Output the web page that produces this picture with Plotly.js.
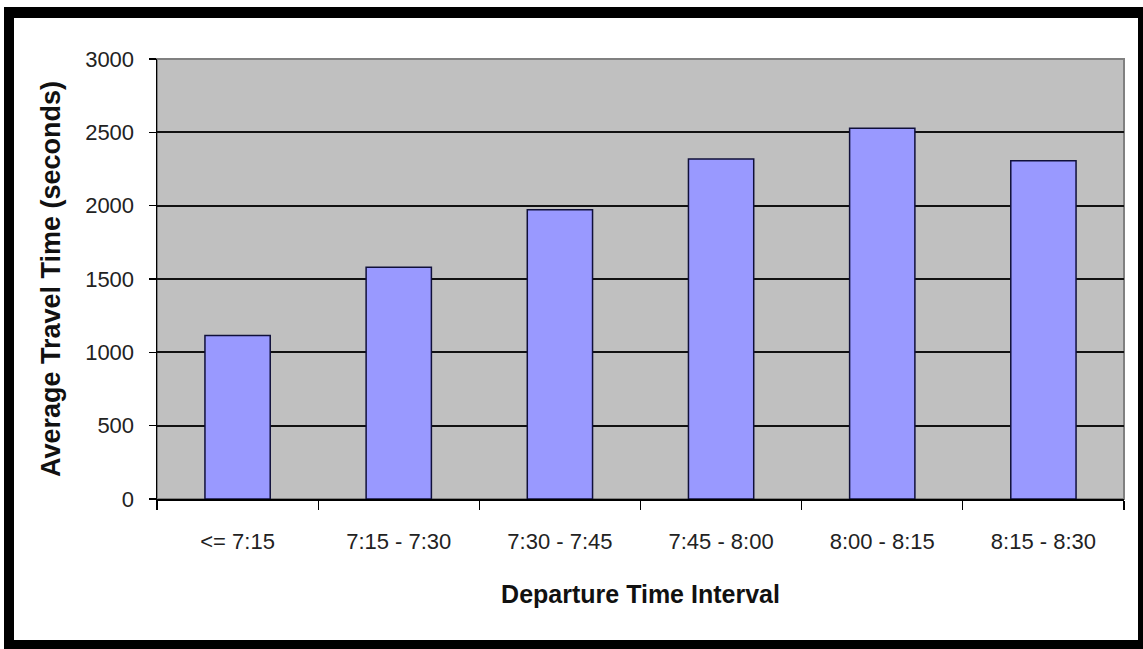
<!DOCTYPE html>
<html>
<head>
<meta charset="utf-8">
<script src="https://cdn.plot.ly/plotly-3.0.1.min.js"></script>
<style>
  html, body { margin: 0; padding: 0; background: #ffffff; }
  #wrap { position: relative; width: 1143px; height: 649px; overflow: hidden; }
  #chart { position: absolute; left: 0; top: 0; width: 1143px; height: 649px; }
  #frame { position: absolute; left: 4px; top: 7px; width: 1139px; height: 642px;
           box-sizing: border-box; border-style: solid; border-color: #000;
           border-width: 11px 5px 9px 10px; pointer-events: none; }
</style>
</head>
<body>
<div id="wrap">
  <div id="chart"></div>
  <div id="frame"></div>
</div>
<script>
const categories = ["<= 7:15", "7:15 - 7:30", "7:30 - 7:45", "7:45 - 8:00", "8:00 - 8:15", "8:15 - 8:30"];
const travelTime = [1114, 1580, 1973, 2319, 2527, 2307];
const yTicks = [0, 500, 1000, 1500, 2000, 2500, 3000];
const xTitle = "Departure Time Interval";
const yTitle = "Average Travel Time (seconds)";

const font = "Liberation Sans, Arial, sans-serif";

const data = [{
  type: "bar",
  x: categories,
  y: travelTime,
  width: 0.405,
  marker: { color: "#9999FF", line: { color: "#10103a", width: 1.5 } },
  hoverinfo: "x+y"
}];

const layout = {
  width: 1143,
  height: 649,
  margin: { l: 157, r: 19, t: 59, b: 150 },
  paper_bgcolor: "rgba(0,0,0,0)",
  plot_bgcolor: "#C0C0C0",
  showlegend: false,
  bargap: 0.6,
  font: { family: font, color: "#111" },
  xaxis: {
    type: "category",
    tickson: "boundaries",
    ticks: "outside",
    ticklen: 9,
    tickwidth: 1.2,
    tickcolor: "#000",
    showline: true,
    linecolor: "#000",
    linewidth: 1.5,
    showgrid: false,
    zeroline: false,
    tickfont: { family: font, size: 22, color: "#222" },
    ticklabelstandoff: 22,
    title: { text: xTitle, font: { family: font, size: 25, color: "#111", weight: "bold" }, standoff: 32 },
    automargin: false
  },
  yaxis: {
    range: [0, 3000],
    tickvals: yTicks,
    ticktext: yTicks.map(String),
    ticks: "outside",
    ticklen: 7,
    tickwidth: 1.2,
    tickcolor: "#000",
    showline: true,
    linecolor: "#000",
    linewidth: 1.5,
    showgrid: true,
    gridcolor: "#111",
    gridwidth: 2,
    zeroline: false,
    tickfont: { family: font, size: 22, color: "#222" },
    ticklabelstandoff: 10,
    title: { text: yTitle, font: { family: font, size: 27, color: "#111", weight: "bold" }, standoff: 16 },
    automargin: false
  },
  shapes: [{
    type: "rect", xref: "paper", yref: "paper", x0: 0, x1: 1, y0: 0, y1: 1,
    line: { color: "#808080", width: 2 }, layer: "between"
  }]
};

Plotly.newPlot("chart", data, layout, { displayModeBar: false, staticPlot: true });
</script>
</body>
</html>
